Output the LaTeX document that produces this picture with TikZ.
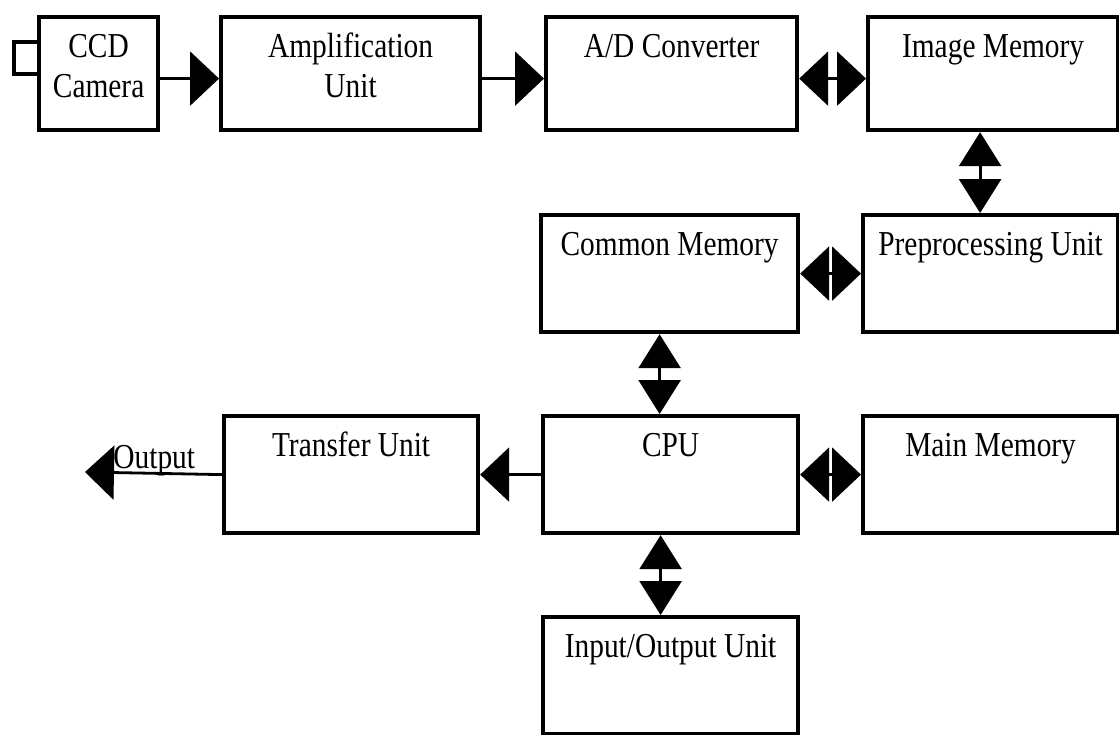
\documentclass[tikz,border=0pt]{standalone}
\usepackage{fontspec}
\setmainfont[FakeStretch=0.84]{Liberation Serif}
\usetikzlibrary{arrows.meta}

\tikzset{
  box/.style={draw, line width=2.1pt, anchor=north west, align=center, inner sep=0pt,
    font=\fontsize{17.5pt}{20pt}\selectfont, text height=20pt, text depth=38.5pt},
  twoline/.style={text height=40pt, text depth=16.5pt},
  flow/.style={line width=1.4pt, -{Triangle[length=14.5pt,width=27pt]}},
  hbus/.style={line width=1.4pt, {Triangle[length=14.5pt,width=27pt]}-{Triangle[length=14.5pt,width=27pt]}},
  vbus/.style={line width=1.4pt, {Triangle[length=17pt,width=21pt]}-{Triangle[length=17pt,width=21pt]}}
}

\begin{document}
\begin{tikzpicture}[x=0.5pt, y=-0.5pt]
\useasboundingbox (0,0) rectangle (1119,734);
% first row
\node[box, twoline, minimum width=59.5pt] (ccd) at (37,15) {CCD\\Camera};
\node[box, twoline, minimum width=129.5pt] (amp) at (219,15) {Amplification\\Unit};
\node[box, minimum width=125.5pt, text depth=36.5pt] (adc) at (544,15) {A/D Converter};
\node[box, minimum width=125pt, text depth=36.5pt] (imgmem) at (866,15) {Image Memory};
\draw[line width=2.1pt] (ccd.west |- 0,42) -| (14,74) -- (ccd.west |- 0,74);
% second row
\node[box, minimum width=128.5pt] (common) at (539,213) {Common Memory};
\node[box, minimum width=127.5pt] (prep) at (861,213) {Preprocessing Unit};
% third row
\node[box, minimum width=127pt] (transfer) at (222,414) {Transfer Unit};
\node[box, minimum width=127.5pt] (cpu) at (541,414) {CPU};
\node[box, minimum width=127.5pt] (mainmem) at (861,414) {Main Memory};
% last row
\node[box, minimum width=127.5pt] (io) at (541,615) {Input/Output Unit};
\node[anchor=base west, inner sep=0pt, font=\fontsize{17.5pt}{20pt}\selectfont] (outlbl) at (113,468) {Output};
\coordinate (outend) at (85,472);

\draw[flow] ([yshift=-2.5pt]ccd.east) -- ([yshift=-2.5pt]amp.west);
\draw[flow] ([yshift=-2.5pt]amp.east) -- ([yshift=-2.5pt]adc.west);
\draw[hbus] ([yshift=-2.5pt]adc.east) -- ([yshift=-2.5pt]imgmem.west);
\draw[vbus] ([xshift=-6.5pt]imgmem.south) -- ([xshift=-6.5pt]imgmem.south |- prep.north);
\draw[hbus] (common.east) -- (prep.west);
\draw[vbus] ([xshift=-5pt]common.south) -- ([xshift=-5pt]common.south |- cpu.north);
\draw[hbus] (cpu.east) -- (mainmem.west);
\draw[flow] (cpu.west) -- (transfer.east);
\draw[vbus] ([xshift=-5pt]cpu.south) -- ([xshift=-5pt]cpu.south |- io.north);
\draw[flow] (transfer.west) -- (outend);
\end{tikzpicture}
\end{document}
